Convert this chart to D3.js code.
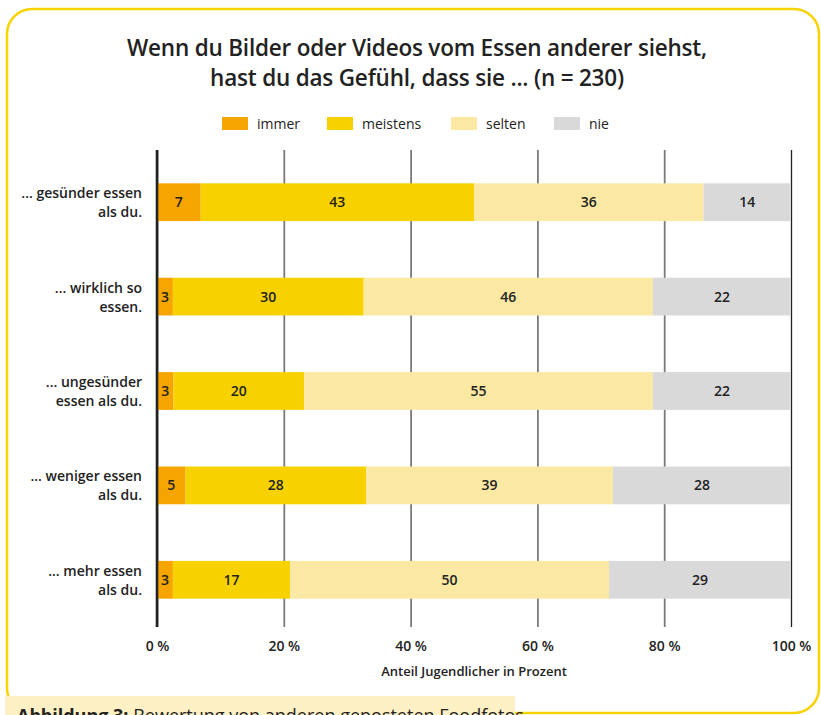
<!DOCTYPE html>
<html>
<head>
<meta charset="utf-8">
<script src="https://cdn.jsdelivr.net/npm/d3@7"></script>
<style>
  html, body { margin: 0; padding: 0; background: #fff; overflow: hidden; }
  svg { display: block; font-family: "Open Sans", sans-serif; }
</style>
</head>
<body>
<svg id="chart" width="821" height="715"></svg>
<script>
// Row labels (two lines each), top to bottom
const categories = [
    ["... gesünder essen", "als du."],
    ["... wirklich so", "essen."],
    ["... ungesünder", "essen als du."],
    ["... weniger essen", "als du."],
    ["... mehr essen", "als du."]
];

const seriesNames = ["immer", "meistens", "selten", "nie"];
const seriesColors = ["#f5a400", "#f8d200", "#fbe8a3", "#d9d9d9"];

// shares in percent
const immer    = [6.9, 2.5, 2.6, 4.5, 2.5];
const meistens = [43.1, 30.1, 20.6, 28.5, 18.5];
const selten   = [36.2, 45.6, 55.0, 38.9, 50.3];
const nie      = [13.8, 21.8, 21.8, 28.1, 28.7];

// numbers printed inside the bars
const immerLabels    = [7, 3, 3, 5, 3];
const meistensLabels = [43, 30, 20, 28, 17];
const seltenLabels   = [36, 46, 55, 39, 50];
const nieLabels      = [14, 22, 22, 28, 29];

const xTicks = [0, 20, 40, 60, 80, 100];

const titleLines = [
    "Wenn du Bilder oder Videos vom Essen anderer siehst,",
    "hast du das Gefühl, dass sie ... (n = 230)"
];
const axisTitle = "Anteil Jugendlicher in Prozent";
const captionBold = "Abbildung 3:";
const captionText = " Bewertung von anderen geposteten Foodfotos";

const svg = d3.select("#chart");

// frame
svg.append("rect")
    .attr("x", 7).attr("y", 9)
    .attr("width", 812).attr("height", 704)
    .attr("rx", 25).attr("ry", 25)
    .attr("fill", "none")
    .attr("stroke", "#f9d300")
    .attr("stroke-width", 2.5);

// title
svg.append("g").selectAll("text").data(titleLines).enter()
    .append("text")
    .attr("x", 417)
    .attr("y", (d, i) => 56 + i * 30)
    .attr("text-anchor", "middle")
    .attr("font-size", 22.5)
    .attr("font-weight", 600)
    .attr("letter-spacing", -0.2)
    .attr("fill", "#222")
    .text(d => d);

// legend
const legendX = [222, 327, 451, 554];
const legend = svg.append("g").selectAll("g").data(seriesNames).enter()
    .append("g")
    .attr("transform", (d, i) => "translate(" + legendX[i] + ",117)");
legend.append("rect")
    .attr("width", 26).attr("height", 13)
    .attr("fill", (d, i) => seriesColors[i]);
legend.append("text")
    .attr("x", 35).attr("y", 11.5)
    .attr("font-size", 14)
    .attr("font-weight", 500)
    .attr("fill", "#222")
    .text(d => d);

// scales
const x = d3.scaleLinear().domain([0, 100]).range([157, 791]);
const y = d3.scaleBand()
    .domain(d3.range(categories.length))
    .range([155, 627])
    .paddingInner(0.6)
    .paddingOuter(0.3);

// grid lines via axis
const grid = svg.append("g")
    .attr("transform", "translate(0,627)")
    .call(d3.axisBottom(x).tickValues(xTicks).tickSize(-477).tickPadding(14).tickFormat(d => d + " %"));
grid.select(".domain").remove();
grid.selectAll(".tick line")
    .attr("stroke", (d) => d === 100 ? "#222" : "#7a7a7a")
    .attr("stroke-width", (d) => d === 100 ? 1.3 : 1.8);
grid.selectAll(".tick text")
    .attr("font-family", "Open Sans, sans-serif")
    .attr("font-size", 14)
    .attr("font-weight", 600)
    .attr("fill", "#222");

// stacked bars
const rows = categories.map((c, i) => ({
    idx: i,
    immer: immer[i], meistens: meistens[i], selten: selten[i], nie: nie[i]
}));
const labelSets = [immerLabels, meistensLabels, seltenLabels, nieLabels];
const stacked = d3.stack().keys(seriesNames)(rows);

const layers = svg.append("g").selectAll("g").data(stacked).enter()
    .append("g")
    .attr("fill", (d, i) => seriesColors[i]);

layers.selectAll("rect").data(d => d).enter()
    .append("rect")
    .attr("x", d => x(d[0]))
    .attr("y", d => y(d.data.idx))
    .attr("width", d => x(d[1]) - x(d[0]))
    .attr("height", y.bandwidth());

layers.each(function(layer, li) {
    d3.select(this).selectAll("text").data(layer).enter()
        .append("text")
        .attr("x", d => (x(d[0]) + x(d[1])) / 2)
        .attr("y", d => y(d.data.idx) + y.bandwidth() / 2 + 5)
        .attr("text-anchor", "middle")
        .attr("font-size", 14)
        .attr("font-weight", 600)
        .attr("fill", "#222")
        .text(d => labelSets[li][d.data.idx]);
});

// zero line
svg.append("line")
    .attr("x1", x(0)).attr("x2", x(0))
    .attr("y1", 150).attr("y2", 627)
    .attr("stroke", "#222")
    .attr("stroke-width", 2.6);

// row labels
const rowLabels = svg.append("g").selectAll("text").data(categories).enter()
    .append("text")
    .attr("text-anchor", "end")
    .attr("font-size", 14)
    .attr("font-weight", 600)
    .attr("fill", "#222");
rowLabels.selectAll("tspan").data((d, i) => d.map(t => ({t: t, i: i}))).enter()
    .append("tspan")
    .attr("x", 142)
    .attr("y", (d, j) => y(d.i) + y.bandwidth() / 2 - 4 + j * 19)
    .text(d => d.t);

// axis title
svg.append("text")
    .attr("x", 474).attr("y", 676)
    .attr("text-anchor", "middle")
    .attr("font-size", 13)
    .attr("font-weight", 600)
    .attr("fill", "#222")
    .text(axisTitle);

// caption box (cut off at the lower window edge, like the reference)
svg.append("rect")
    .attr("x", 5).attr("y", 696)
    .attr("width", 510).attr("height", 30)
    .attr("fill", "#fdf0c4");
const cap = svg.append("text")
    .attr("x", 17).attr("y", 722)
    .attr("font-size", 18)
    .attr("fill", "#222");
cap.append("tspan").attr("font-weight", 700).text(captionBold);
cap.append("tspan").attr("font-weight", 400).text(captionText);
</script>
</body>
</html>
